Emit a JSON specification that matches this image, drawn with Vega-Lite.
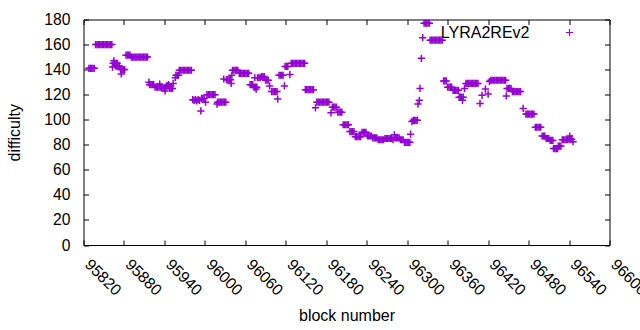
{
"$schema": "https://vega.github.io/schema/vega-lite/v6.json",
"width": 526,
"height": 225.5,
"autosize": "none",
"padding": {"left": 83.5, "top": 19.5, "right": 30.5, "bottom": 85},
"background": "white",
"config": {
  "font": "Liberation Sans",
  "view": {"stroke": "black", "strokeWidth": 1},
  "axis": {"domain": false, "grid": false, "tickColor": "black", "tickWidth": 1, "labelColor": "black", "titleColor": "black", "labelFont": "Liberation Sans", "titleFont": "Liberation Sans", "labelFontSize": 15.7, "titleFontSize": 16, "titleFontWeight": "normal"}
},
"data": {"values": [
{"b":95828,"d":141},{"b":95830,"d":141},{"b":95832,"d":141},{"b":95834,"d":141},{"b":95836,"d":141},
{"b":95838,"d":160},{"b":95840,"d":160},{"b":95842,"d":160},{"b":95844,"d":160},{"b":95846,"d":160},{"b":95848,"d":160},{"b":95850,"d":160},{"b":95852,"d":160},{"b":95854,"d":160},{"b":95856,"d":160},{"b":95858,"d":160},{"b":95860,"d":160},{"b":95862,"d":160},
{"b":95863,"d":142},{"b":95865,"d":147},
{"b":95864,"d":145},{"b":95866,"d":145},{"b":95868,"d":145},{"b":95870,"d":145},
{"b":95867,"d":143},{"b":95869,"d":143},{"b":95871,"d":143},{"b":95873,"d":143},
{"b":95875,"d":140},{"b":95877,"d":140},{"b":95879,"d":140},{"b":95881,"d":140},
{"b":95876,"d":136.5},
{"b":95883,"d":151.5},{"b":95885,"d":151.5},{"b":95887,"d":151.5},{"b":95889,"d":151.5},
{"b":95891,"d":150},{"b":95893,"d":150},{"b":95895,"d":150},{"b":95897,"d":150},{"b":95899,"d":150},{"b":95901,"d":150},{"b":95903,"d":150},{"b":95905,"d":150},{"b":95907,"d":150},{"b":95909,"d":150},{"b":95911,"d":150},{"b":95913,"d":150},{"b":95915,"d":150},
{"b":95917,"d":130},
{"b":95918,"d":128},{"b":95920,"d":128},{"b":95922,"d":128},{"b":95924,"d":128},
{"b":95926,"d":126},{"b":95928,"d":126},{"b":95930,"d":126},{"b":95932,"d":126},{"b":95934,"d":126},
{"b":95933,"d":128.5},
{"b":95936,"d":125.5},{"b":95938,"d":125.5},{"b":95940,"d":125.5},{"b":95942,"d":125.5},
{"b":95941,"d":123},
{"b":95943,"d":127},{"b":95945,"d":127},{"b":95947,"d":127},
{"b":95946,"d":128},
{"b":95948,"d":125},{"b":95950,"d":125},{"b":95952,"d":125},
{"b":95953,"d":129},{"b":95956,"d":133.5},
{"b":95957,"d":135.5},{"b":95959,"d":135.5},{"b":95961,"d":135.5},
{"b":95962,"d":139.5},{"b":95964,"d":139.5},{"b":95966,"d":139.5},{"b":95968,"d":139.5},{"b":95970,"d":139.5},{"b":95972,"d":139.5},{"b":95974,"d":139.5},{"b":95976,"d":139.5},{"b":95978,"d":139.5},{"b":95980,"d":139.5},
{"b":95982,"d":116},{"b":95984,"d":115.5},{"b":95986,"d":116},{"b":95988,"d":115},{"b":95990,"d":116},{"b":95992,"d":115.5},
{"b":95994,"d":107},
{"b":95995,"d":117},{"b":95997,"d":117},{"b":95999,"d":117},
{"b":96001,"d":114},
{"b":96003,"d":120},{"b":96005,"d":120},{"b":96007,"d":120},{"b":96009,"d":120},{"b":96011,"d":120},{"b":96013,"d":120},{"b":96015,"d":120},
{"b":96018,"d":112.5},
{"b":96019,"d":114},{"b":96021,"d":114},{"b":96023,"d":114},{"b":96025,"d":114},{"b":96027,"d":114},{"b":96029,"d":114},{"b":96031,"d":114},
{"b":96028,"d":132.5},
{"b":96032,"d":132},{"b":96034,"d":132},{"b":96036,"d":132},{"b":96038,"d":132},
{"b":96039,"d":129},{"b":96040,"d":135.5},
{"b":96041,"d":139.5},{"b":96043,"d":139.5},{"b":96045,"d":139.5},{"b":96047,"d":139.5},{"b":96049,"d":139.5},
{"b":96051,"d":137},{"b":96053,"d":137},{"b":96055,"d":137},{"b":96057,"d":137},{"b":96059,"d":137},{"b":96061,"d":137},{"b":96063,"d":137},{"b":96065,"d":137},
{"b":96067,"d":128},{"b":96069,"d":128},{"b":96071,"d":128},
{"b":96073,"d":126},{"b":96075,"d":126},{"b":96077,"d":126},
{"b":96074,"d":133.5},{"b":96076,"d":124.5},
{"b":96078,"d":133.5},{"b":96080,"d":133.5},{"b":96082,"d":133.5},
{"b":96084,"d":134.5},{"b":96086,"d":134.5},{"b":96088,"d":134.5},
{"b":96090,"d":131.5},{"b":96092,"d":131.5},{"b":96094,"d":131.5},
{"b":96096,"d":127},
{"b":96099,"d":122.5},{"b":96101,"d":122.5},{"b":96103,"d":122.5},{"b":96105,"d":122.5},{"b":96107,"d":122.5},
{"b":96108,"d":116.5},
{"b":96110,"d":135.5},{"b":96112,"d":135.5},{"b":96114,"d":135.5},{"b":96116,"d":135.5},
{"b":96118,"d":127},
{"b":96119,"d":142.5},{"b":96121,"d":142.5},{"b":96123,"d":142.5},
{"b":96126,"d":136},
{"b":96128,"d":145},{"b":96130,"d":145},{"b":96132,"d":145},{"b":96134,"d":145},{"b":96136,"d":145},{"b":96138,"d":145},{"b":96140,"d":145},{"b":96142,"d":145},{"b":96144,"d":145},{"b":96146,"d":145},{"b":96148,"d":145},
{"b":96149,"d":124},{"b":96151,"d":124},{"b":96153,"d":124},{"b":96155,"d":124},{"b":96157,"d":124},{"b":96159,"d":124},{"b":96161,"d":124},
{"b":96164,"d":109.5},
{"b":96166,"d":114},{"b":96168,"d":114},{"b":96170,"d":114},{"b":96172,"d":114},{"b":96174,"d":114},{"b":96176,"d":114},{"b":96178,"d":114},{"b":96180,"d":114},{"b":96182,"d":114},{"b":96184,"d":114},
{"b":96187,"d":105.5},
{"b":96189,"d":110},{"b":96191,"d":110},{"b":96193,"d":110},{"b":96195,"d":110},
{"b":96197,"d":106},{"b":96199,"d":106},{"b":96201,"d":106},{"b":96203,"d":106},
{"b":96205,"d":96},{"b":96207,"d":96},{"b":96209,"d":96},{"b":96211,"d":96},{"b":96213,"d":96},
{"b":96215,"d":90.5},{"b":96217,"d":90.5},{"b":96219,"d":90.5},{"b":96221,"d":90.5},
{"b":96223,"d":86.5},{"b":96225,"d":86.5},{"b":96227,"d":86.5},{"b":96229,"d":86.5},{"b":96231,"d":86.5},
{"b":96233,"d":90},{"b":96235,"d":90},{"b":96237,"d":90},{"b":96239,"d":90},
{"b":96241,"d":87},{"b":96243,"d":87},{"b":96245,"d":87},{"b":96247,"d":87},
{"b":96249,"d":85.5},{"b":96251,"d":85.5},{"b":96253,"d":85.5},{"b":96255,"d":85.5},
{"b":96257,"d":84},{"b":96259,"d":84},{"b":96261,"d":84},{"b":96263,"d":84},{"b":96265,"d":84},
{"b":96267,"d":85},{"b":96269,"d":85},{"b":96271,"d":85},{"b":96273,"d":85},{"b":96275,"d":85},{"b":96277,"d":85},
{"b":96279,"d":84},{"b":96281,"d":88},
{"b":96282,"d":85.5},{"b":96284,"d":85.5},{"b":96286,"d":85.5},{"b":96288,"d":85.5},
{"b":96290,"d":84},{"b":96292,"d":84},{"b":96294,"d":84},
{"b":96296,"d":82},{"b":96298,"d":82},{"b":96300,"d":82},{"b":96302,"d":82},{"b":96304,"d":82},
{"b":96305,"d":88.5},{"b":96307,"d":98.5},
{"b":96309,"d":99.5},{"b":96311,"d":99.5},{"b":96313,"d":99.5},{"b":96315,"d":99.5},
{"b":96316,"d":112.5},{"b":96318,"d":115.5},{"b":96319,"d":125},{"b":96321,"d":149},{"b":96323,"d":165.5},
{"b":96325,"d":177},{"b":96327,"d":177},{"b":96329,"d":177},{"b":96331,"d":177},{"b":96333,"d":177},
{"b":96334,"d":163.5},
{"b":96336,"d":163.5},{"b":96338,"d":163.5},{"b":96340,"d":163.5},{"b":96342,"d":163.5},{"b":96344,"d":163.5},{"b":96346,"d":163.5},{"b":96348,"d":163.5},{"b":96350,"d":163.5},{"b":96352,"d":163.5},
{"b":96354,"d":131},{"b":96356,"d":131},{"b":96358,"d":131},
{"b":96360,"d":126},{"b":96362,"d":126},{"b":96364,"d":126},{"b":96366,"d":126},
{"b":96368,"d":123.5},{"b":96370,"d":123.5},{"b":96372,"d":123.5},{"b":96374,"d":123.5},{"b":96376,"d":123.5},
{"b":96377,"d":118},{"b":96379,"d":118},{"b":96381,"d":118},{"b":96383,"d":118},
{"b":96382,"d":115.5},{"b":96385,"d":125},
{"b":96387,"d":129},{"b":96389,"d":129},{"b":96391,"d":129},{"b":96393,"d":129},{"b":96395,"d":129},{"b":96397,"d":129},{"b":96399,"d":129},{"b":96401,"d":129},{"b":96403,"d":129},{"b":96405,"d":129},
{"b":96408,"d":113},{"b":96411,"d":119.5},{"b":96416,"d":124.5},{"b":96420,"d":120.5},{"b":96422,"d":130.5},
{"b":96424,"d":131.5},{"b":96426,"d":131.5},{"b":96428,"d":131.5},{"b":96430,"d":131.5},{"b":96432,"d":131.5},{"b":96434,"d":131.5},{"b":96436,"d":131.5},{"b":96438,"d":131.5},{"b":96440,"d":131.5},{"b":96442,"d":131.5},{"b":96444,"d":131.5},{"b":96446,"d":131.5},
{"b":96447,"d":119},
{"b":96448,"d":125},{"b":96450,"d":125},{"b":96452,"d":125},{"b":96454,"d":125},
{"b":96456,"d":122.5},{"b":96458,"d":122.5},{"b":96460,"d":122.5},{"b":96462,"d":122.5},{"b":96464,"d":122.5},{"b":96466,"d":122.5},{"b":96468,"d":122.5},
{"b":96472,"d":109},
{"b":96476,"d":104.5},{"b":96478,"d":104.5},{"b":96480,"d":104.5},{"b":96482,"d":104.5},{"b":96484,"d":104.5},{"b":96486,"d":104.5},{"b":96488,"d":104.5},
{"b":96490,"d":94},{"b":96492,"d":94},{"b":96494,"d":94},{"b":96496,"d":94},{"b":96498,"d":94},
{"b":96500,"d":87},{"b":96502,"d":87},{"b":96504,"d":87},
{"b":96506,"d":85},{"b":96508,"d":85},{"b":96510,"d":85},
{"b":96512,"d":83.5},{"b":96514,"d":83.5},{"b":96516,"d":83.5},
{"b":96517,"d":77},{"b":96519,"d":77},{"b":96521,"d":77},{"b":96523,"d":77},
{"b":96524,"d":79},{"b":96526,"d":79},{"b":96528,"d":79},
{"b":96530,"d":84},{"b":96532,"d":84},{"b":96534,"d":84},{"b":96536,"d":84},{"b":96538,"d":84},
{"b":96540,"d":84.5},{"b":96542,"d":84.5},{"b":96544,"d":84.5},
{"b":96541,"d":87},{"b":96546,"d":82.5}
]},
"layer": [
  {
    "mark": {"type": "point", "shape": "M-1,0L1,0M0,-1L0,1", "filled": false, "size": 52, "strokeWidth": 1.5, "opacity": 1},
    "encoding": {
      "x": {"field": "b", "type": "quantitative",
        "scale": {"domain": [95820, 96600], "nice": false, "zero": false},
        "axis": {"orient": "bottom", "values": [95820,95880,95940,96000,96060,96120,96180,96240,96300,96360,96420,96480,96540,96600], "format": "d", "tickSize": -5, "labelAngle": 45, "labelAlign": "left", "labelBaseline": "alphabetic", "labelPadding": 25, "labelFlush": false, "labelOverlap": false, "labelBound": false, "title": "block number", "titleY": 75, "titleBaseline": "alphabetic"}},
      "y": {"field": "d", "type": "quantitative",
        "scale": {"domain": [0, 180], "nice": false, "zero": false},
        "axis": {"orient": "left", "values": [0,20,40,60,80,100,120,140,160,180], "tickSize": -5, "labelPadding": 18.5, "labelFlush": false, "labelOverlap": false, "title": "difficulty", "titleX": -69, "titleBaseline": "middle", "titleAngle": -90}},
      "color": {"datum": "LYRA2REv2", "type": "nominal", "scale": {"range": ["#9400d3"]},
        "legend": {"orient": "none", "legendX": 478, "legendY": 5, "title": null, "padding": 0, "offset": 0, "labelFont": "Liberation Sans", "labelFontSize": 16, "labelColor": "black", "labelAlign": "right", "labelOffset": -48, "symbolType": "M-1,0L1,0M0,-1L0,1", "symbolSize": 52, "symbolStrokeWidth": 1.2, "symbolStrokeColor": "#9400d3", "symbolFillColor": "transparent"}}
    }
  },
  {
    "mark": {"type": "point", "opacity": 0},
    "encoding": {
      "x": {"field": "b", "type": "quantitative",
        "scale": {"domain": [95820, 96600], "nice": false, "zero": false},
        "axis": {"orient": "top", "values": [95820,95880,95940,96000,96060,96120,96180,96240,96300,96360,96420,96480,96540,96600], "tickSize": -5, "labels": false, "title": null}},
      "y": {"field": "d", "type": "quantitative",
        "scale": {"domain": [0, 180], "nice": false, "zero": false},
        "axis": {"orient": "right", "values": [0,20,40,60,80,100,120,140,160,180], "tickSize": -5, "labels": false, "title": null}}
    }
  }
],
"resolve": {"axis": {"x": "independent", "y": "independent"}}
}
